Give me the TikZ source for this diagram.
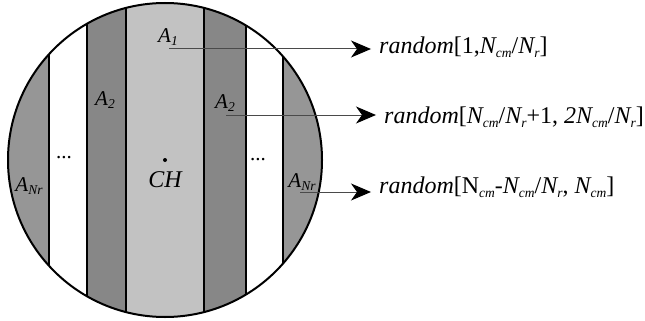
\documentclass[tikz,border=0pt]{standalone}
\usepackage{fontspec}
\setmainfont{Liberation Serif}
\usetikzlibrary{arrows.meta,positioning}
\definecolor{stripcore}{HTML}{C2C2C2}
\definecolor{stripdark}{HTML}{878787}
\definecolor{stripouter}{HTML}{969696}
\definecolor{pointergray}{HTML}{4A4A4A}
\newcommand{\labelfont}{\fontsize{21}{24}\selectfont}
\newcommand{\rangefont}{\fontsize{24}{26}\selectfont}
% small index set just under the baseline
\newcommand{\low}[1]{\raisebox{-0.35ex}{\fontsize{13.5}{14}\selectfont #1}}
\newcommand{\Ncm}{\textit{N\low{cm}}}
\newcommand{\Nr}{\textit{N\low{r}}}

\begin{document}
\begin{tikzpicture}[x=1pt, y=-1pt,
  arealabel/.style={font=\labelfont\itshape, inner sep=1pt},
  rangetext/.style={font=\rangefont, anchor=west, inner xsep=8pt, inner ysep=2pt},
  pointer/.style={draw=pointergray, line width=1pt,
    -{Stealth[length=20pt, width=17pt, inset=6pt, color=black]}}]
\useasboundingbox (0,0) rectangle (645,321);
\coordinate (CH) at (165,160);

% strips inside the disc
\begin{scope}
  \clip (CH) circle[radius=157pt];
  \fill[stripouter] (0,0) rectangle (49,321);
  \fill[white] (49,0) rectangle (87,321);
  \fill[stripdark] (87,0) rectangle (126,321);
  \fill[stripcore] (126,0) rectangle (204,321);
  \fill[stripdark] (204,0) rectangle (246,321);
  \fill[white] (246,0) rectangle (283,321);
  \fill[stripouter] (283,0) rectangle (330,321);
  \foreach \x in {49,87,126,204,246,283}
    \draw[line width=2.6pt] (\x,0) -- (\x,321);
\end{scope}
\draw[line width=2pt] (CH) circle[radius=157pt];

% labels of the strips
\node[arealabel] (a1) at (168,37) {A\low{1}};
\node[arealabel] (a2l) at (105,100) {A\low{2}};
\node[arealabel] (a2r) at (225,103) {A\low{2}};
\node[arealabel] (anl) at (29,186) {A\low{Nr}};
\node[arealabel] (anr) at (302,182) {A\low{Nr}};
\node[font=\labelfont] (dotsl) at (64,158) {...};
\node[font=\labelfont] (dotsr) at (258,160) {...};
\fill (CH) circle[radius=2pt];
\node[arealabel, font=\rangefont\itshape, below=10pt of CH] (chl) {CH};

% ranges of random numbers
\node[rangetext] (r1) at (371,47) {\textit{random}[1,\Ncm/\Nr]};
\node[rangetext] (r2) at (376,117) {\textit{random}[\Ncm/\Nr+1, \textit{2}\Ncm/\Nr]};
\node[rangetext] (r3) at (371,187) {\textit{random}[N\low{\textit{cm}}-\Ncm/\Nr, \Ncm]};

\coordinate (p1) at (169,49);
\coordinate (p2) at (226,115);
\coordinate (p3) at (300,192);
\draw[pointer] (p1) -- (p1 -| r1.west);
\draw[pointer] (p2) -- (p2 -| r2.west);
\draw[pointer] (p3) -- (p3 -| r3.west);
\end{tikzpicture}
\end{document}
